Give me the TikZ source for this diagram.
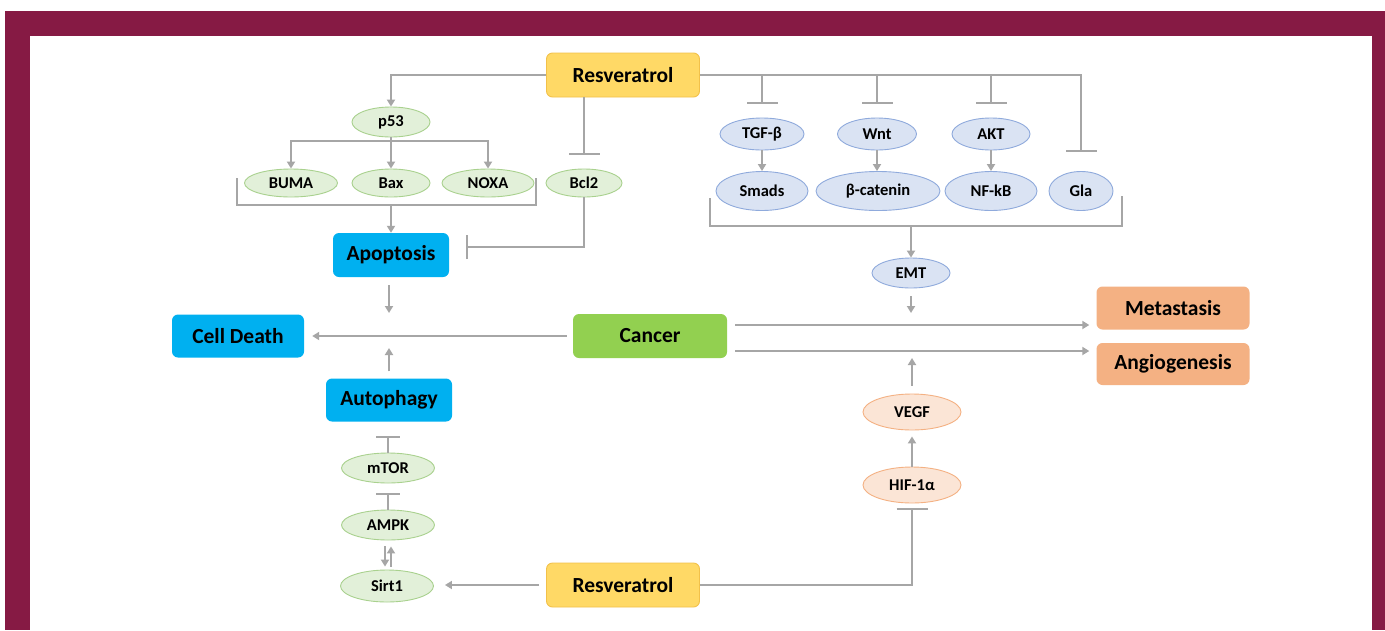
\documentclass[tikz,border=0pt]{standalone}
\usepackage{fontspec}
\setmainfont{Carlito}
\usetikzlibrary{shapes.geometric,arrows.meta}
\definecolor{frame}{HTML}{861A44}
\definecolor{lgray}{HTML}{A6A6A6}
\definecolor{gfill}{HTML}{E2F0D9}
\definecolor{gdraw}{HTML}{A9D18E}
\definecolor{bfill}{HTML}{DAE3F3}
\definecolor{bdraw}{HTML}{8FAADC}
\definecolor{ofill}{HTML}{FBE5D6}
\definecolor{odraw}{HTML}{F4B183}
\definecolor{yfill}{HTML}{FFD966}
\definecolor{ydraw}{HTML}{F2C14A}
\definecolor{cyanbox}{HTML}{00B0F0}
\definecolor{greenbox}{HTML}{92D050}
\definecolor{orangebox}{HTML}{F4B183}
\tikzset{
  ell/.style={ellipse, draw, line width=0.9pt, inner sep=0pt, font=\bfseries\fontsize{16.5}{16.5}\selectfont},
  gell/.style={ell, fill=gfill, draw=gdraw},
  bell/.style={ell, fill=bfill, draw=bdraw},
  oell/.style={ell, fill=ofill, draw=odraw},
  rbox/.style={rounded corners=6pt, inner sep=0pt, font=\bfseries\fontsize{21.5}{21.5}\selectfont},
  ybox/.style={rbox, fill=yfill, draw=ydraw, line width=0.9pt},
  cbox/.style={rbox, fill=cyanbox},
  gbox/.style={rbox, fill=greenbox},
  obox/.style={rbox, fill=orangebox},
  conn/.style={draw=lgray, line width=2.3pt},
  arr/.style={conn, -{Triangle[width=8pt,length=7pt]}},
  inh/.style={conn, -{Bar[width=31pt]}},
  inhs/.style={conn, -{Bar[width=24pt]}}
}
\begin{document}
\begin{tikzpicture}[x=1pt,y=-1pt]
\useasboundingbox (0,0) rectangle (1385,630);
\fill[frame] (5,11) rectangle (1385,630);
\fill[white] (30,36) rectangle (1372,630);

% nodes
\node[ybox, minimum width=153pt, minimum height=44pt] (res1) at (623,75) {Resveratrol};
\node[gell, minimum width=78pt, minimum height=30pt] (p53) at (391,122) {p53};
\node[gell, minimum width=93pt, minimum height=28pt] (buma) at (291,183) {BUMA};
\node[gell, minimum width=78pt, minimum height=28pt] (bax) at (391,183) {Bax};
\node[gell, minimum width=92pt, minimum height=28pt] (noxa) at (488,183) {NOXA};
\node[gell, minimum width=76pt, minimum height=28pt] (bcl2) at (584,183) {Bcl2};
\node[cbox, minimum width=116pt, minimum height=44pt] (apop) at (391,255) {Apoptosis};
\node[cbox, minimum width=132pt, minimum height=43pt] (cdeath) at (238,336) {Cell Death};
\node[gbox, minimum width=154pt, minimum height=44pt] (cancer) at (650,336) {Cancer};
\node[cbox, minimum width=126pt, minimum height=43pt] (autoph) at (389,400) {Autophagy};
\node[gell, minimum width=93pt, minimum height=30pt] (mtor) at (388,468) {mTOR};
\node[gell, minimum width=93pt, minimum height=30pt] (ampk) at (388,525) {AMPK};
\node[gell, minimum width=93pt, minimum height=32pt] (sirt1) at (387,586) {Sirt1};
\node[ybox, minimum width=153pt, minimum height=44pt] (res2) at (623,585) {Resveratrol};
\node[oell, minimum width=98pt, minimum height=36pt] (hif) at (912,485) {HIF-1α};
\node[oell, minimum width=98pt, minimum height=36pt] (vegf) at (912,412) {VEGF};
\node[bell, minimum width=78pt, minimum height=30pt] (emt) at (911,273) {EMT};
\node[obox, minimum width=153pt, minimum height=43pt] (meta) at (1173,308) {Metastasis};
\node[obox, minimum width=153pt, minimum height=42pt] (angio) at (1173,364) {Angiogenesis};
\node[bell, minimum width=84pt, minimum height=32pt] (tgf) at (762,134) {TGF-β};
\node[bell, minimum width=79pt, minimum height=32pt] (wnt) at (877,134) {Wnt};
\node[bell, minimum width=78pt, minimum height=32pt] (akt) at (991,134) {AKT};
\node[bell, minimum width=92pt, minimum height=39pt] (smads) at (762,191) {Smads};
\node[bell, minimum width=124pt, minimum height=39pt] (bcat) at (878,191) {β-catenin};
\node[bell, minimum width=92pt, minimum height=39pt] (nfkb) at (991,191) {NF-kB};
\node[bell, minimum width=64pt, minimum height=39pt] (gla) at (1081,191) {Gla};

% coordinates
\coordinate (pj) at (391,141);
\coordinate (bclbar) at (584,155);
\coordinate (brL) at (237,178);
\coordinate (brR) at (536,178);
\coordinate (brC) at (391,205);
\coordinate (apopbar) at (466,247);
\coordinate (a1) at (389,313);
\coordinate (a2) at (389,348);
\coordinate (mtorbar) at (388,436);
\coordinate (ampkbar) at (388,493);
\coordinate (hifbar) at (912,508);
\coordinate (a3) at (912,358);
\coordinate (tgfbar) at (762,104);
\coordinate (wntbar) at (877,104);
\coordinate (aktbar) at (991,104);
\coordinate (glabar) at (1081,152);
\coordinate (brL2) at (710,198);
\coordinate (brR2) at (1122,196);
\coordinate (brC2) at (911,226);
\coordinate (a4) at (911,313);

% left top
\draw[arr] (res1.west) -| (p53.north);
\draw[arr] (p53.south) -- (bax.north);
\draw[arr] (pj) -| (buma.north);
\draw[arr] (pj) -| (noxa.north);
\draw[inh] (res1.south -| bcl2.north) -- (bclbar);
\draw[conn] (brL) |- (brC -| brR) -- (brR);
\draw[arr] (brC) -- (apop.north);
\draw[inhs] (bcl2.south) |- (apopbar);
\draw[arr, shorten <=8pt] (apop.south -| a1) -- (a1);

% center
\draw[arr, shorten <=6pt, shorten >=8pt] (cancer.west) -- (cdeath.east);
\draw[arr, shorten <=7pt] (autoph.north -| a2) -- (a2);
\draw[inhs] (mtor.north) -- (mtorbar);
\draw[inhs] (ampk.north) -- (ampkbar);
\draw[arr, line width=2pt, shorten <=6pt, shorten >=3pt] ([xshift=-3pt]ampk.south) -- ([xshift=-3pt]ampk.south |- sirt1.north);
\draw[arr, line width=2pt, shorten <=3pt, shorten >=6pt] ([xshift=3pt]ampk.south |- sirt1.north) -- ([xshift=3pt]ampk.south);
\draw[arr, shorten <=7pt, shorten >=11pt] (res2.west) -- (res2.west -| sirt1.east);

% right bottom
\draw[inh] (res2.east) -| (hifbar);
\draw[arr, shorten >=6pt] (hif.north) -- (vegf.south);
\draw[arr, shorten <=8pt] (vegf.north) -- (a3);

% cancer outputs
\draw[arr, shorten <=8pt, shorten >=7pt] ([yshift=11pt]cancer.east) -- ([yshift=11pt]cancer.east -| meta.west);
\draw[arr, shorten <=8pt, shorten >=7pt] ([yshift=-15pt]cancer.east) -- ([yshift=-15pt]cancer.east -| angio.west);

% right top
\draw[inh] (res1.east) -| (glabar);
\draw[inh] (res1.east -| tgfbar) -- (tgfbar);
\draw[inh] (res1.east -| wntbar) -- (wntbar);
\draw[inh] (res1.east -| aktbar) -- (aktbar);
\draw[arr] (tgf.south) -- (smads.north);
\draw[arr] (wnt.south) -- (wnt.south |- bcat.north);
\draw[arr] (akt.south) -- (nfkb.north);
\draw[conn] (brL2) |- (brC2) -| (brR2);
\draw[arr] (brC2) -- (emt.north);
\draw[arr, shorten <=8pt] (emt.south) -- (a4);
\end{tikzpicture}
\end{document}
